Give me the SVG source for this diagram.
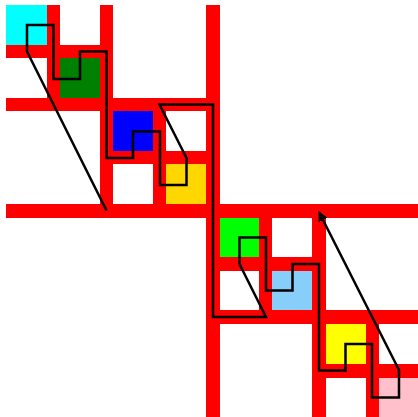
<svg xmlns="http://www.w3.org/2000/svg" width="418" height="417" viewBox="0 0 418 417">
<style>
.bar{fill:#ff0000}
.curve{fill:none;stroke:#000;stroke-width:2.5;stroke-linejoin:miter}
</style>
<defs>
<marker id="arrow" viewBox="0 0 10 10" refX="9" refY="5" markerWidth="4" markerHeight="4" orient="auto" markerUnits="strokeWidth">
<path d="M0,0 L10,5 L0,10 z" fill="#000"/>
</marker>
</defs>
<rect width="418" height="417" fill="#fff"/>
<g id="grid">
<rect class="bar" x="47" y="5" width="13" height="93"/>
<rect class="bar" x="100" y="5" width="13" height="199"/>
<rect class="bar" x="153" y="111" width="13" height="93"/>
<rect class="bar" x="206" y="5" width="14" height="412"/>
<rect class="bar" x="259" y="218" width="13" height="92"/>
<rect class="bar" x="312" y="218" width="14" height="199"/>
<rect class="bar" x="366" y="324" width="13" height="93"/>
<rect class="bar" x="6" y="45" width="94" height="13"/>
<rect class="bar" x="6" y="98" width="200" height="13"/>
<rect class="bar" x="113" y="151" width="93" height="13"/>
<rect class="bar" x="6" y="204" width="412" height="14"/>
<rect class="bar" x="220" y="257" width="92" height="14"/>
<rect class="bar" x="220" y="310" width="198" height="14"/>
<rect class="bar" x="326" y="364" width="92" height="14"/>
</g>
<g id="cell-cyan"><rect x="6" y="5" width="41" height="40" fill="#00ffff"/></g>
<g id="cell-green"><rect x="60" y="58" width="40" height="40" fill="#008000"/></g>
<g id="cell-blue"><rect x="113" y="111" width="40" height="40" fill="#0000ff"/></g>
<g id="cell-gold"><rect x="166" y="164" width="40" height="40" fill="#ffd700"/></g>
<g id="cell-lime"><rect x="220" y="218" width="39" height="39" fill="#00ff00"/></g>
<g id="cell-lightblue"><rect x="272" y="271" width="40" height="39" fill="#87cefa"/></g>
<g id="cell-yellow"><rect x="326" y="324" width="40" height="40" fill="#ffff00"/></g>
<g id="cell-pink"><rect x="379" y="378" width="39" height="39" fill="#ffc0cb"/></g>
<g id="connectors">
<path class="curve" marker-end="url(#arrow)" d="M106.5,210.5 L27,51.5 L27,25 L53.5,25 L53.5,79 L80,79 L80,51.5 L106.5,51.5 L106.5,158 L133,158 L133,131.5 L160,131.5 L160,185 L186.5,185 L186.5,158 L159.5,104.5 L213,104.5 L213,317 L266,317 L239.5,264 L239.5,237.5 L266,237.5 L266,290.5 L292.5,290.5 L292.5,264 L319,264 L319,370.5 L345.5,370.5 L345.5,344 L372,344 L372,397.5 L399,397.5 L399,370 L319,212"/>
</g>
</svg>
